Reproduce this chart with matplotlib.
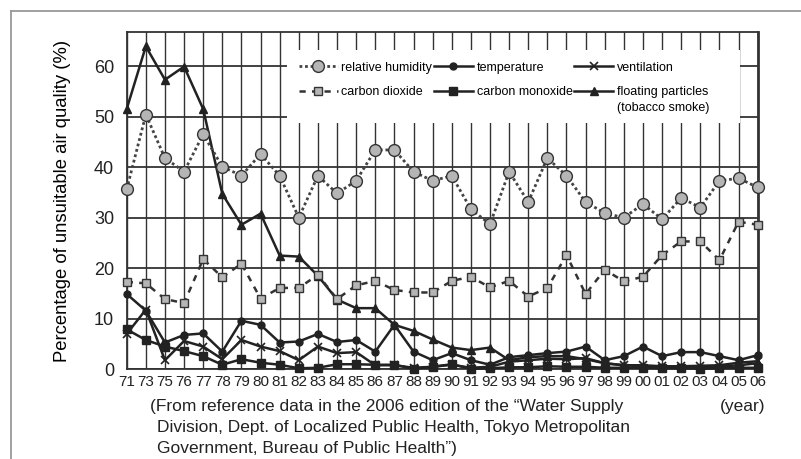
import numpy as np
import matplotlib.pyplot as plt
from matplotlib.lines import Line2D
from matplotlib.patches import Rectangle

years = ['71', '73', '75', '76', '77', '78', '79', '80', '81', '82',
         '83', '84', '85', '86', '87', '88', '89', '90', '91', '92',
         '93', '94', '95', '96', '97', '98', '99', '00', '01', '02',
         '03', '04', '05', '06']

humidity = [35.6, 50.4, 41.8, 39.1, 46.5, 40.1, 38.3, 42.6, 38.3, 30.0,
            38.3, 34.8, 37.3, 43.4, 43.4, 39.1, 37.3, 38.3, 31.7, 28.7,
            39.1, 33.1, 41.8, 38.3, 33.1, 30.9, 30.0, 32.7, 29.7, 33.9,
            32.0, 37.3, 37.8, 36.0]
co2 = [17.3, 17.0, 13.9, 13.1, 21.8, 18.2, 20.9, 14.0, 16.1, 16.1,
       18.7, 13.9, 16.6, 17.5, 15.7, 15.2, 15.2, 17.5, 18.3, 16.2,
       17.5, 14.4, 16.1, 22.6, 14.9, 19.7, 17.4, 18.3, 22.6, 25.3,
       25.3, 21.6, 29.2, 28.6]
temperature = [14.9, 11.6, 5.3, 6.8, 7.1, 3.5, 9.6, 8.8, 5.3, 5.5,
               7.0, 5.4, 5.8, 3.5, 8.8, 3.5, 1.8, 3.2, 1.8, 0.9,
               2.4, 2.8, 3.2, 3.5, 4.5, 1.8, 2.6, 4.5, 2.6, 3.4,
               3.4, 2.6, 1.8, 2.8]
co = [7.9, 5.8, 4.5, 3.6, 2.6, 0.9, 2.0, 1.3, 0.9, 0.2,
      0.3, 1.0, 1.0, 0.9, 0.9, 0.1, 0.5, 1.0, 0.1, 0.2,
      0.4, 0.4, 0.6, 0.5, 0.5, 0.3, 0.3, 0.3, 0.2, 0.2,
      0.1, 0.2, 0.3, 0.3]
ventilation = [7.0, 11.8, 1.8, 5.6, 4.5, 2.0, 5.8, 4.5, 3.6, 1.8,
               4.5, 3.2, 3.4, 0.8, 0.8, 0.3, 0.5, 0.9, 0.3, 0.5,
               1.5, 1.8, 2.1, 2.0, 2.2, 1.2, 0.8, 0.8, 0.6, 0.6,
               0.7, 0.8, 1.3, 1.6]
particles = [51.5, 63.9, 57.3, 59.9, 51.5, 34.7, 28.6, 30.8, 22.5, 22.3,
             18.5, 13.8, 12.1, 12.1, 8.8, 7.6, 5.9, 4.3, 3.8, 4.3,
             1.8, 2.4, 2.6, 2.6, 2.0, 1.2, 0.8, 0.6, 0.5, 0.4,
             0.4, 0.5, 0.8, 1.2]

plt.rcParams['font.family'] = ['Liberation Sans', 'DejaVu Sans']

fig = plt.figure(figsize=(8.01, 4.59), dpi=100)
ax = fig.add_axes([126.7 / 801, 1 - 369.3 / 459, 631 / 801, 337.6 / 459])

x = np.arange(len(years))
dark = '#222222'
gray = '#b5b5b5'

ax.plot(x, humidity, linestyle=(0, (1, 1)), lw=2, color='#444444',
        marker='o', ms=8.5, mfc=gray, mec='#333333', mew=1,
        label='relative humidity', clip_on=False, zorder=4)
ax.plot(x, co2, linestyle=(0, (2.5, 2.5)), lw=1.8, color='#333333',
        marker='s', ms=6, mfc=gray, mec='#333333', mew=1,
        label='carbon dioxide', clip_on=False, zorder=4)
ax.plot(x, temperature, '-', lw=1.8, color=dark, marker='o', ms=5,
        mfc=dark, mec=dark, label='temperature', clip_on=False, zorder=3)
ax.plot(x, co, '-', lw=1.8, color=dark, marker='s', ms=5.5,
        mfc=dark, mec=dark, label='carbon monoxide', clip_on=False, zorder=3)
ax.plot(x, ventilation, '-', lw=1.8, color=dark, marker='x', ms=6, mew=1.2,
        label='ventilation', clip_on=False, zorder=3)
ax.plot(x, particles, '-', lw=1.8, color=dark, marker='^', ms=6,
        mfc=dark, mec=dark, label='floating particles',
        clip_on=False, zorder=3)

ax.set_xlim(0, len(years) - 1)
ax.set_ylim(0, 66.8)
ax.set_xticks(x)
ax.set_xticklabels(years, fontsize=11)
ax.set_yticks(np.arange(0, 61, 10))
ax.tick_params(axis='both', length=0, colors='#222222')
ax.tick_params(axis='y', labelsize=13, pad=9)
ax.tick_params(axis='x', pad=4)

ax.grid(axis='x', color='#333333', lw=1)
ax.grid(axis='y', color='#333333', lw=1.3)
ax.set_axisbelow(True)
for side in ['left', 'bottom', 'top']:
    ax.spines[side].set_color('#333333')
    ax.spines[side].set_linewidth(1.3)
ax.spines['right'].set_color('#333333')
ax.spines['right'].set_linewidth(2)

ax.set_ylabel('Percentage of unsuitable air quality (%)', fontsize=13.3)
ax.yaxis.set_label_coords(-0.088, 0.5)

# white box behind the legend, hides the grid
ax.add_patch(Rectangle((0.254, 0.730), 0.718, 0.216, transform=ax.transAxes,
                       facecolor='white', edgecolor='none', zorder=1))

leg = ax.legend(ncol=3, loc='upper left', bbox_to_anchor=(0.254, 0.946),
                fontsize=9, frameon=False, handlelength=3.1,
                handletextpad=0.3, columnspacing=0.15, labelspacing=1.0,
                borderpad=0.95, borderaxespad=0, numpoints=1)
leg.set_zorder(5)
ptext = [t for t in leg.get_texts() if t.get_text() == 'floating particles'][0]
ax.annotate('(tobacco smoke)', xy=(0, 0), xycoords=ptext, xytext=(0, -2.5),
            textcoords='offset points', ha='left', va='top', fontsize=9,
            zorder=6)

src_kw = dict(fontsize=12.5, va='center', ha='left', color='#222222')
fig.text(150 / 801, 1 - 406 / 459,
         '(From reference data in the 2006 edition of the \u201cWater Supply',
         **src_kw)
fig.text(157 / 801, 1 - 427.5 / 459,
         'Division, Dept. of Localized Public Health, Tokyo Metropolitan',
         **src_kw)
fig.text(157 / 801, 1 - 448.5 / 459,
         'Government, Bureau of Public Health\u201d)', **src_kw)
fig.text(765 / 801, 1 - 406 / 459, '(year)', fontsize=12.5, va='center',
         ha='right', color='#222222')

# thin outer frame
fig.add_artist(Line2D([10.7 / 801, 10.7 / 801], [0, 1 - 11 / 459],
                      transform=fig.transFigure, color='#999999', lw=1.3))
fig.add_artist(Line2D([10.7 / 801, 1], [1 - 11 / 459, 1 - 11 / 459],
                      transform=fig.transFigure, color='#999999', lw=1.3))

fig.savefig('out.png', dpi=100)
